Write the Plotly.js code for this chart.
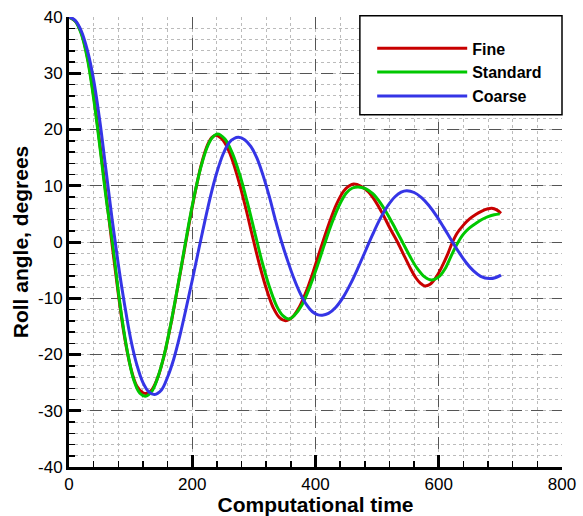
<!DOCTYPE html>
<html>
<head>
<meta charset="utf-8">
<script src="https://cdn.plot.ly/plotly-3.0.1.min.js"></script>
<style>
html,body{margin:0;padding:0;background:#fff;}
#chart{width:583px;height:516px;}
</style>
</head>
<body>
<div id="chart"></div>
<script>
// Fine
var fineT = [0,10,20,30,40,50,60,70,80,90,100,110,120,127,135,145,155,165,175,185,195,205,215,225,232,238,250,262,274,286,298,310,322,332,342,351,362,374,386,398,410,422,434,446,455,462,474,486,498,509,521,533,545,555,563,570,577,586,596,606,614,622,630,640,650,660,670,680,686,694,701];
var fineY = [40,39.3,37.2,32.8,26.0,17.5,8.5,-0.5,-9.2,-16.8,-22.3,-25.6,-26.8,-26.9,-26.2,-23.8,-19.9,-14.8,-8.9,-2.8,3.3,9.0,13.9,17.3,18.6,19.0,18.1,15.5,11.4,6.4,0.9,-4.4,-8.9,-11.8,-13.5,-14.0,-13.4,-11.5,-8.5,-4.7,-0.6,3.3,6.7,9.1,10.0,10.3,9.9,8.9,7.1,5.0,2.4,0.0,-2.7,-4.9,-6.4,-7.3,-7.8,-7.5,-6.2,-4.2,-2.3,-0.1,1.6,3.0,4.1,4.9,5.5,5.9,6.0,5.7,5.1];
// Standard
var stdT = [0,10,20,30,40,50,60,71,81,90,96,105,115,124,134,144,154,164,174,184,194,204,214,224,232,241,253,265,277,289,301,313,325,337,347,357,366,378,390,402,414,426,438,450,460,469,481,493,505,517,529,541,553,565,577,588,600,610,620,630,640,650,660,670,680,690,699];
var stdY = [40,39.3,37.0,32.5,25.5,17.0,8.0,-0.5,-9.6,-16.5,-20.2,-24.5,-26.9,-27.4,-26.6,-24.1,-20.3,-15.2,-9.4,-3.2,3.0,8.6,13.3,16.8,18.5,19.2,18.3,15.8,12.0,7.2,1.9,-3.4,-7.9,-11.4,-13.1,-13.7,-13.0,-11.2,-8.2,-4.6,-0.6,3.2,6.4,8.7,9.6,9.8,9.5,8.6,7.0,4.9,2.5,0.0,-2.5,-4.7,-6.2,-6.75,-6.2,-4.8,-2.5,-0.3,1.4,2.5,3.3,4.0,4.5,4.85,5.0];
// Coarse
var coarseT = [0,10,20,30,40,50,60,70,80,90,100,110,120,130,139,150,160,170,180,190,200,210,220,230,240,250,260,268,275,285,295,305,315,325,335,345,355,365,375,385,395,403,411,421,433,445,457,469,481,493,505,517,529,539,548,560,572,584,596,608,620,632,644,656,668,682,693,701];
var coarseY = [40,39.4,37.5,34.0,28.8,21.5,12.8,4.0,-4.0,-11.0,-17.2,-21.8,-25.0,-26.7,-27.1,-26.3,-24.0,-20.8,-16.6,-11.8,-6.8,-1.6,3.5,8.3,12.4,15.6,17.7,18.4,18.6,18.2,17.0,14.9,11.8,8.1,3.9,0.0,-3.4,-6.5,-9.1,-11.1,-12.4,-12.9,-13.0,-12.7,-11.6,-9.8,-7.4,-4.6,-1.6,1.4,4.15,6.4,8.05,8.85,9.1,8.8,7.9,6.5,4.7,2.6,0.4,-1.7,-3.6,-5.1,-6.1,-6.5,-6.3,-5.9];

var seriesNames = ['Fine','Standard','Coarse'];
var seriesColors = ['#c80000','#00c800','#3535e6'];
var xTickVals = [0,200,400,600,800];
var yTickVals = [-40,-30,-20,-10,0,10,20,30,40];

var FONT = 'Liberation Sans, Arial, Helvetica, sans-serif';
var xs = [fineT, stdT, coarseT];
var ys = [fineY, stdY, coarseY];
var traces = xs.map(function(x,i){
  return {x:x, y:ys[i], type:'scatter', mode:'lines', name:seriesNames[i],
    line:{color:seriesColors[i], width:3, shape:'spline', smoothing:1}};
});

var axisCommon = {
  showline:true, linecolor:'#000', linewidth:3,
  ticks:'inside', ticklen:12, tickwidth:3, tickcolor:'#000',
  showgrid:true, gridcolor:'#555', gridwidth:1, griddash:'12px,9px',
  zeroline:false,
  tickfont:{family:FONT, size:17, color:'#000'},
};

var layout = {
  width:583, height:516,
  margin:{l:69, r:21, t:17, b:49},
  paper_bgcolor:'#fff', plot_bgcolor:'#fff',
  showlegend:true,
  xaxis: Object.assign({}, axisCommon, {
    range:[0,800], tickmode:'array', tickvals:xTickVals, ticktext:xTickVals.map(String),
    minor:{dtick:40, ticks:'inside', ticklen:6, tickwidth:1.5, tickcolor:'#000',
           showgrid:true, gridcolor:'#bbb', gridwidth:1, griddash:'dot'},
    title:{text:'Computational time', font:{family:FONT, size:21, color:'#000', weight:'bold'}, standoff:0}
  }),
  yaxis: Object.assign({}, axisCommon, {
    range:[-40,40], tickmode:'array', tickvals:yTickVals, ticktext:yTickVals.map(String),
    minor:{dtick:2, ticks:'inside', ticklen:6, tickwidth:1.5, tickcolor:'#000',
           showgrid:true, gridcolor:'#bbb', gridwidth:1, griddash:'dot'},
    title:{text:'Roll angle, degrees', font:{family:FONT, size:21, color:'#000', weight:'bold'}, standoff:4}
  }),
  legend:{x:0.615, y:0.968, xanchor:'left', yanchor:'top', bgcolor:'rgba(0,0,0,0)', borderwidth:0,
    itemwidth:90, font:{family:FONT, size:16, color:'#000', weight:'bold'}},
  shapes:[{type:'rect', xref:'paper', yref:'paper', x0:0.59, x1:1.0, y0:0.783, y1:1.003,
    fillcolor:'#fff', line:{color:'#000', width:1.5}, layer:'above'}]
};

Plotly.newPlot('chart', traces, layout, {displayModeBar:false, staticPlot:true});
</script>
</body>
</html>
